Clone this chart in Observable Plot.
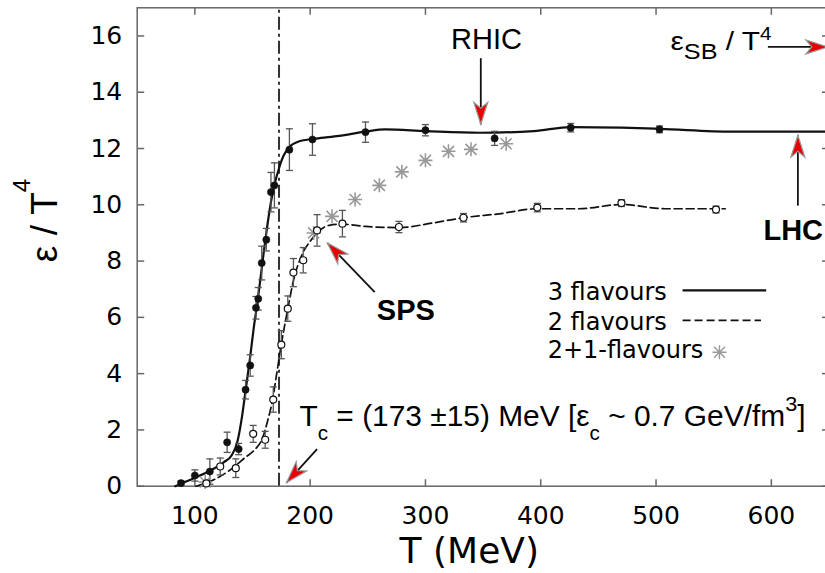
<!DOCTYPE html>
<html><head><meta charset="utf-8">
<script src="https://cdn.jsdelivr.net/npm/d3@7"></script>
<script src="https://cdn.jsdelivr.net/npm/@observablehq/plot@0.6"></script>
<style>
html,body{margin:0;padding:0;background:#fff;overflow:hidden;}
svg{max-width:none !important;}
</style></head><body><div id="chart"></div>
<script>
// ---- data ----
const T3 = [88, 100, 113, 128, 138, 144, 148, 153, 155, 158, 162, 166, 169, 182, 202, 248, 300, 360, 426, 503];
const v3 = [0.11, 0.38, 0.52, 1.56, 1.32, 3.43, 4.29, 6.34, 6.66, 7.93, 8.76, 10.45, 10.69, 11.96, 12.32, 12.58, 12.65, 12.36, 12.74, 12.68];
const e3 = [0.08, 0.2, 0.45, 0.36, 0.2, 0.33, 0.38, 0.4, 0.4, 0.6, 0.4, 0.7, 0.8, 0.74, 0.56, 0.36, 0.2, 0.25, 0.15, 0.12];

const T2 = [110, 122, 135.5, 150.6, 161, 168, 175, 180.6, 185.5, 194, 206, 228, 277, 333, 397, 470, 552];
const v2 = [0.1, 0.7, 0.64, 1.86, 1.65, 3.08, 5.03, 6.31, 7.59, 8.03, 9.09, 9.33, 9.21, 9.54, 9.9, 10.06, 9.83];
const e2 = [0.1, 0.3, 0.33, 0.3, 0.3, 0.45, 0.5, 0.45, 0.5, 0.45, 0.56, 0.47, 0.2, 0.15, 0.15, 0.12, 0.12];

const T21 = [109, 203, 219, 239, 260, 279.5, 300, 320, 339.5, 370];
const v21 = [0.15, 9.0, 9.59, 10.19, 10.69, 11.17, 11.58, 11.9, 11.97, 12.17];

const curve3T = [83, 100, 113, 125, 132, 137, 141, 144, 148, 151, 154.5, 157, 160, 163, 166, 169, 173, 177, 182, 190, 205, 225, 248, 265, 300, 347, 394, 426, 470, 503, 566, 650];
const curve3v = [0, 0.3, 0.55, 0.85, 1.1, 1.6, 2.5, 3.4, 4.6, 5.6, 6.6, 7.4, 8.4, 9.3, 10.1, 10.7, 11.3, 11.75, 12.05, 12.25, 12.35, 12.45, 12.6, 12.68, 12.62, 12.56, 12.62, 12.76, 12.74, 12.7, 12.6, 12.6];

const curve2T = [101, 115, 130, 144, 152, 158.6, 163, 167.3, 171, 174.8, 180.6, 185.5, 193.3, 200, 206, 216.5, 228, 248, 277, 306, 333, 364, 397, 433, 470, 508, 560];
const curve2v = [0, 0.2, 0.56, 1.03, 1.3, 1.7, 2.3, 3.05, 4.0, 5.0, 6.3, 7.3, 8.26, 8.7, 9.0, 9.27, 9.31, 9.23, 9.19, 9.35, 9.54, 9.68, 9.86, 9.86, 10.01, 9.86, 9.86];

const xTicks = [100, 200, 300, 400, 500, 600];
const yTicks = [0, 2, 4, 6, 8, 10, 12, 14, 16];
const Tc = 173;
const legendLabels = ["3 flavours", "2 flavours", "2+1-flavours"];
const xLabel = "T (MeV)";
const yLabelParts = ["ε / T", "4"];
const sbParts = ["ε", "SB", " / T", "4"];
const tcParts = ["T", "c", " = (173 ±15) MeV [ε", "c", " ~ 0.7 GeV/fm", "3", "]"];

// annotation anchors (data units)
const plainLabels = [{text: "RHIC", T: 353, v: 15.55}];
const boldLabels = [
  {text: "LHC", T: 619, v: 8.74},
  {text: "SPS", T: 283, v: 5.89}
];
const arrows = [
  {x1: 348, y1: 15.21, x2: 348, y2: 12.86},
  {x1: 597, y1: 15.61, x2: 649, y2: 15.61},
  {x1: 623, y1: 9.97, x2: 623, y2: 12.47},
  {x1: 256, y1: 6.9, x2: 215, y2: 8.64},
  {x1: 206, y1: 1.32, x2: 179.6, y2: 0.13}
];

// ---- layout ----
const W = 840, H = 573, mL = 136.7, mR = 11.5, mT = 7.3, mB = 87.3;
const xDomain = [50, 650], yDomain = [0, 17];
const sx = d3.scaleLinear(xDomain, [mL, W - mR]);
const sy = d3.scaleLinear(yDomain, [H - mB, mT]);
arrows.forEach(a => {
  const dx = sx(a.x2) - sx(a.x1), dy = sy(a.y2) - sy(a.y1);
  a.angle = Math.atan2(dx, -dy) * 180 / Math.PI;
});

const pts3 = T3.map((T, i) => ({T, v: v3[i], e: e3[i]}));
const pts2 = T2.map((T, i) => ({T, v: v2[i], e: e2[i]}));
const pts21 = T21.map((T, i) => ({T, v: v21[i]}));
const c3 = curve3T.map((T, i) => ({T, v: curve3v[i]}));
const c2 = curve2T.map((T, i) => ({T, v: curve2v[i]}));
const errs = [...pts3, ...pts2];
const caps = errs.flatMap(d => [{T: d.T, v: d.v - d.e}, {T: d.T, v: d.v + d.e}]);

// symbols
const headSym = {draw(c) { c.moveTo(0, 0); c.lineTo(7, 22); c.lineTo(0, 16); c.lineTo(-7, 22); c.closePath(); }};
const capSym = {draw(c) { c.moveTo(-3.5, 0); c.lineTo(3.5, 0); }};
const tickUp = {draw(c) { c.moveTo(0, 0); c.lineTo(0, -7); }};
const tickDown = {draw(c) { c.moveTo(0, 0); c.lineTo(0, 7); }};
const tickRight = {draw(c) { c.moveTo(0, 0); c.lineTo(7, 0); }};
const tickLeft = {draw(c) { c.moveTo(0, 0); c.lineTo(-7, 0); }};
const starSym = {draw(c) {
  const a = 7, b = 5.5;
  c.moveTo(-a, 0); c.lineTo(a, 0); c.moveTo(0, -a); c.lineTo(0, a);
  c.moveTo(-b, -b); c.lineTo(b, b); c.moveTo(-b, b); c.lineTo(b, -b);
}};

const FONT = "DejaVu Sans";
const SANS = "Liberation Sans";
const frameGray = "#666";

const legendRows = [
  {T: 406, v: 6.63, lineV: 6.96},
  {T: 406, v: 5.56, lineV: 5.89},
  {T: 406, v: 4.55, lineV: 4.76}
];

const plot = Plot.plot({
  width: W, height: H,
  marginLeft: mL, marginRight: mR, marginTop: mT, marginBottom: mB,
  x: {domain: xDomain, axis: null},
  y: {domain: yDomain, axis: null},
  style: {background: "white", overflow: "visible"},
  marks: [
    // tick marks (inward)
    Plot.dot(xTicks, {x: d => d, y: 0, symbol: tickUp, fill: "none", stroke: frameGray, strokeWidth: 1.5}),
    Plot.dot(xTicks, {x: d => d, y: 17, symbol: tickDown, fill: "none", stroke: frameGray, strokeWidth: 1.5}),
    Plot.dot(yTicks, {x: 50, y: d => d, symbol: tickRight, fill: "none", stroke: frameGray, strokeWidth: 1.5}),
    Plot.dot(yTicks, {x: 650, y: d => d, symbol: tickLeft, fill: "none", stroke: frameGray, strokeWidth: 1.5}),
    Plot.frame({stroke: frameGray, strokeWidth: 1.5}),
    // tick labels
    Plot.text(xTicks, {x: d => d, y: 0, text: d => String(d), dy: 37.6, lineAnchor: "bottom", textAnchor: "middle", fontSize: 25, fontFamily: FONT, fill: "black"}),
    Plot.text(yTicks, {x: 50, y: d => d, text: d => String(d), dx: -15, lineAnchor: "middle", textAnchor: "end", fontSize: 25, fontFamily: FONT, fill: "black"}),
    Plot.text([xLabel], {x: 338, y: 0, text: d => d, dy: 77, lineAnchor: "bottom", textAnchor: "middle", fontSize: 36, fontFamily: FONT, fill: "black"}),
    // Tc line
    Plot.ruleX([Tc], {y1: 0, y2: 17, stroke: "#333", strokeWidth: 2, strokeDasharray: "13,4,3,4"}),
    // curves
    Plot.line(c2, {x: "T", y: "v", curve: "monotone-x", stroke: "#111", strokeWidth: 1.7, strokeDasharray: "8,4"}),
    Plot.line(c3, {x: "T", y: "v", curve: "monotone-x", stroke: "#111", strokeWidth: 2.2}),
    // error bars
    Plot.ruleX(errs, {x: "T", y1: d => d.v - d.e, y2: d => d.v + d.e, stroke: "#555", strokeWidth: 1.3}),
    Plot.dot(caps, {x: "T", y: "v", symbol: capSym, fill: "none", stroke: "#555", strokeWidth: 1.3}),
    // points
    Plot.dot(pts21, {x: "T", y: "v", symbol: starSym, fill: "none", stroke: "#999", strokeWidth: 1.6}),
    Plot.dot(pts2, {x: "T", y: "v", r: 3.5, fill: "white", stroke: "#111", strokeWidth: 1.2}),
    Plot.dot(pts3, {x: "T", y: "v", r: 3.6, fill: "#111", stroke: "#111", strokeWidth: 0.5}),
    // legend
    Plot.text(legendLabels, {x: (d, i) => legendRows[i].T, y: (d, i) => legendRows[i].v, text: d => d, lineAnchor: "bottom", textAnchor: "start", fontSize: 24, fontFamily: FONT, fill: "black"}),
    Plot.link([0], {x1: 523, x2: 595.5, y1: legendRows[0].lineV, y2: legendRows[0].lineV, stroke: "#111", strokeWidth: 2.2}),
    Plot.link([0], {x1: 523, x2: 591, y1: legendRows[1].lineV, y2: legendRows[1].lineV, stroke: "#111", strokeWidth: 1.7, strokeDasharray: "8,4"}),
    Plot.dot([0], {x: 555, y: legendRows[2].lineV, symbol: starSym, fill: "none", stroke: "#999", strokeWidth: 1.4}),
    // arrows
    Plot.link(arrows, {x1: "x1", y1: "y1", x2: "x2", y2: "y2", stroke: "#111", strokeWidth: 1.8}),
    Plot.dot(arrows, {x: "x2", y: "y2", symbol: headSym, rotate: "angle", fill: "#e80000", stroke: "#999", strokeWidth: 1.2}),
    // labels
    Plot.text(plainLabels, {x: "T", y: "v", text: "text", lineAnchor: "bottom", textAnchor: "middle", fontSize: 29, fontFamily: SANS, fill: "black"}),
    Plot.text(boldLabels, {x: "T", y: "v", text: "text", lineAnchor: "bottom", textAnchor: "middle", fontSize: 29, fontFamily: SANS, fontWeight: "bold", fill: "black"})
  ]
});

// rich (sub/superscript) texts, positioned through the plot's own scales
const px = plot.scale("x"), py = plot.scale("y");
function rich(x, y, parts, opts) {
  const t = d3.select(plot).append("text")
    .attr("transform", `translate(${x},${y}) rotate(${opts.rotate || 0})`)
    .attr("text-anchor", opts.anchor || "start")
    .attr("font-family", opts.family || FONT)
    .attr("font-size", opts.size)
    .attr("fill", "black");
  if (opts.length) t.attr("textLength", opts.length).attr("lengthAdjust", "spacingAndGlyphs");
  parts.forEach((p, i) => {
    const st = opts.styles[i];
    t.append("tspan").attr("font-size", st.size || opts.size).attr("dy", st.dy || 0).text(p);
  });
}
rich(57, 220.5, yLabelParts, {size: 37, family: SANS, rotate: -90, anchor: "middle",
  styles: [{}, {size: 24, dy: -27}]});
rich(px.apply(513), py.apply(15.49), sbParts, {size: 26, family: SANS, length: 101,
  styles: [{}, {size: 22, dy: 9}, {dy: -9}, {size: 18, dy: -10}]});
rich(px.apply(191.2), py.apply(2.12), tcParts, {size: 29, family: SANS, length: 506,
  styles: [{}, {size: 20, dy: 14}, {dy: -14}, {size: 20, dy: 14}, {dy: -14}, {size: 21, dy: -15}, {dy: 15}]});

document.getElementById("chart").appendChild(plot);
</script></body></html>
